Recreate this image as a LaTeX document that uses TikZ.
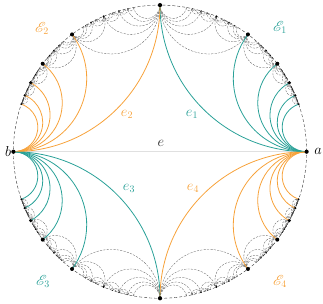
\documentclass[tikz,border=0pt]{standalone}
\usepackage{mathrsfs}
\definecolor{tealc}{HTML}{2AA198}
\definecolor{orangec}{HTML}{F7A23A}
\newcommand\RR{146.6}
\tikzset{
  grayarc/.style={draw=black!65, line width=0.3pt, dash pattern=on 2.2pt off 1.2pt},
  tealarc/.style={draw=tealc, line width=0.8pt},
  orangearc/.style={draw=orangec, line width=0.8pt},
  bnd/.style={draw=black!80, line width=0.4pt, dash pattern=on 3pt off 2pt},
  lbl/.style={font=\fontsize{14.5}{16}\selectfont, inner sep=0pt},
}
\newcommand\myGeo[5]{%
  \pgfmathsetmacro\myTa{2*atan2(#2,#1)}%
  \pgfmathsetmacro\myTb{2*atan2(#4,#3)}%
  \pgfmathsetmacro\myLo{min(\myTa,\myTb)}%
  \pgfmathsetmacro\myDl{abs(\myTb-\myTa)/2}%
  \pgfmathsetmacro\myRr{\RR*tan(\myDl)}%
  \draw[#5] (\myLo:\RR pt) arc[start angle=\myLo-90, end angle=\myLo+2*\myDl-270, radius=\myRr pt];}
\newcommand\myDot[4]{%
  \ifnum#3>1\relax
    \pgfmathsetmacro\myDr{#4*(0.35*#3-0.3)}%
    \fill ({2*atan2(#2,#1)}:\RR pt) circle (\myDr pt);
  \fi}
\newcommand\myFarey[6]{%
  \myGeo{#1}{#2}{#3}{#4}{grayarc}%
  \ifnum#5>0\relax
    \edef\myNext{%
      \noexpand\myFarey{#1}{#2}{\the\numexpr#1+#3\relax}{\the\numexpr#2+#4\relax}{\the\numexpr#5-1\relax}{#6}%
      \noexpand\myFarey{\the\numexpr#1+#3\relax}{\the\numexpr#2+#4\relax}{#3}{#4}{\the\numexpr#5-1\relax}{#6}%
      \noexpand\myDot{\the\numexpr#1+#3\relax}{\the\numexpr#2+#4\relax}{#5}{#6}}%
    \expandafter\myNext
  \fi}
\begin{document}
\begin{tikzpicture}[x=1pt,y=1pt]
\useasboundingbox (-160,-152.3) rectangle (163,151.7);
\coordinate (a) at (0:\RR pt);
\coordinate (b) at (180:\RR pt);
\coordinate (o) at (0,0);
\draw[bnd] (o) circle (\RR pt);
\draw[line width=1.2pt, black!12] (b) -- (a);
% gray Farey arcs, upper half
\myFarey{1}{6}{1}{5}{4}{0.35}
\myFarey{1}{5}{1}{4}{4}{0.45}
\myFarey{1}{4}{1}{3}{4}{0.6}
\myFarey{1}{3}{1}{2}{4}{0.8}
\myFarey{1}{2}{1}{1}{4}{1}
\myFarey{1}{1}{2}{1}{4}{1}
\myFarey{2}{1}{3}{1}{4}{0.8}
\myFarey{3}{1}{4}{1}{4}{0.6}
\myFarey{4}{1}{5}{1}{4}{0.45}
\myFarey{5}{1}{6}{1}{4}{0.35}
% lower half
\myFarey{-1}{6}{-1}{5}{4}{0.35}
\myFarey{-1}{5}{-1}{4}{4}{0.45}
\myFarey{-1}{4}{-1}{3}{4}{0.6}
\myFarey{-1}{3}{-1}{2}{4}{0.8}
\myFarey{-1}{2}{-1}{1}{4}{1}
\myFarey{-1}{1}{-2}{1}{4}{1}
\myFarey{-2}{1}{-3}{1}{4}{0.8}
\myFarey{-3}{1}{-4}{1}{4}{0.6}
\myFarey{-4}{1}{-5}{1}{4}{0.45}
\myFarey{-5}{1}{-6}{1}{4}{0.35}
% coloured arcs
\foreach \n in {1,...,6}{
  \myGeo{1}{0}{\n}{1}{tealarc}
  \myGeo{0}{1}{1}{\n}{orangearc}
  \myGeo{0}{1}{-1}{\n}{tealarc}
  \myGeo{-1}{0}{-\n}{1}{orangearc}
}
% main dots
\foreach \p/\q/\s in {1/0/2.1, 0/1/2.1, 1/1/2.1, -1/1/2.1,
  2/1/2, 3/1/2, 4/1/1.7, 5/1/1.2, 6/1/1.0,
  1/2/2, 1/3/2, 1/4/1.7, 1/5/1.2, 1/6/1.0,
  -2/1/2, -3/1/2, -4/1/1.7, -5/1/1.2, -6/1/1.0,
  -1/2/2, -1/3/2, -1/4/1.7, -1/5/1.2, -1/6/1.0}{
  \fill ({2*atan2(\q,\p)}:\RR pt) circle (\s pt);
}
% labels
\node[lbl, text=black!85] (le) at (1,8.7) {$e$};
\node[lbl, text=tealc] (le1) at (32,37) {$e_1$};
\node[lbl, text=orangec] (le2) at (-33,37.7) {$e_2$};
\node[lbl, text=tealc] (le3) at (-31,-36.3) {$e_3$};
\node[lbl, text=orangec] (le4) at (33,-36.3) {$e_4$};
\node[lbl] (la) at (158,0) {$a$};
\node[lbl] (lb) at (-152,0) {$b$};
\node[lbl, text=tealc] (E1) at (120,124) {$\mathscr{E}_1$};
\node[lbl, text=orangec] (E2) at (-118,123) {$\mathscr{E}_2$};
\node[lbl, text=tealc] (E3) at (-117,-129.5) {$\mathscr{E}_3$};
\node[lbl, text=orangec] (E4) at (120,-129.5) {$\mathscr{E}_4$};
\end{tikzpicture}
\end{document}
